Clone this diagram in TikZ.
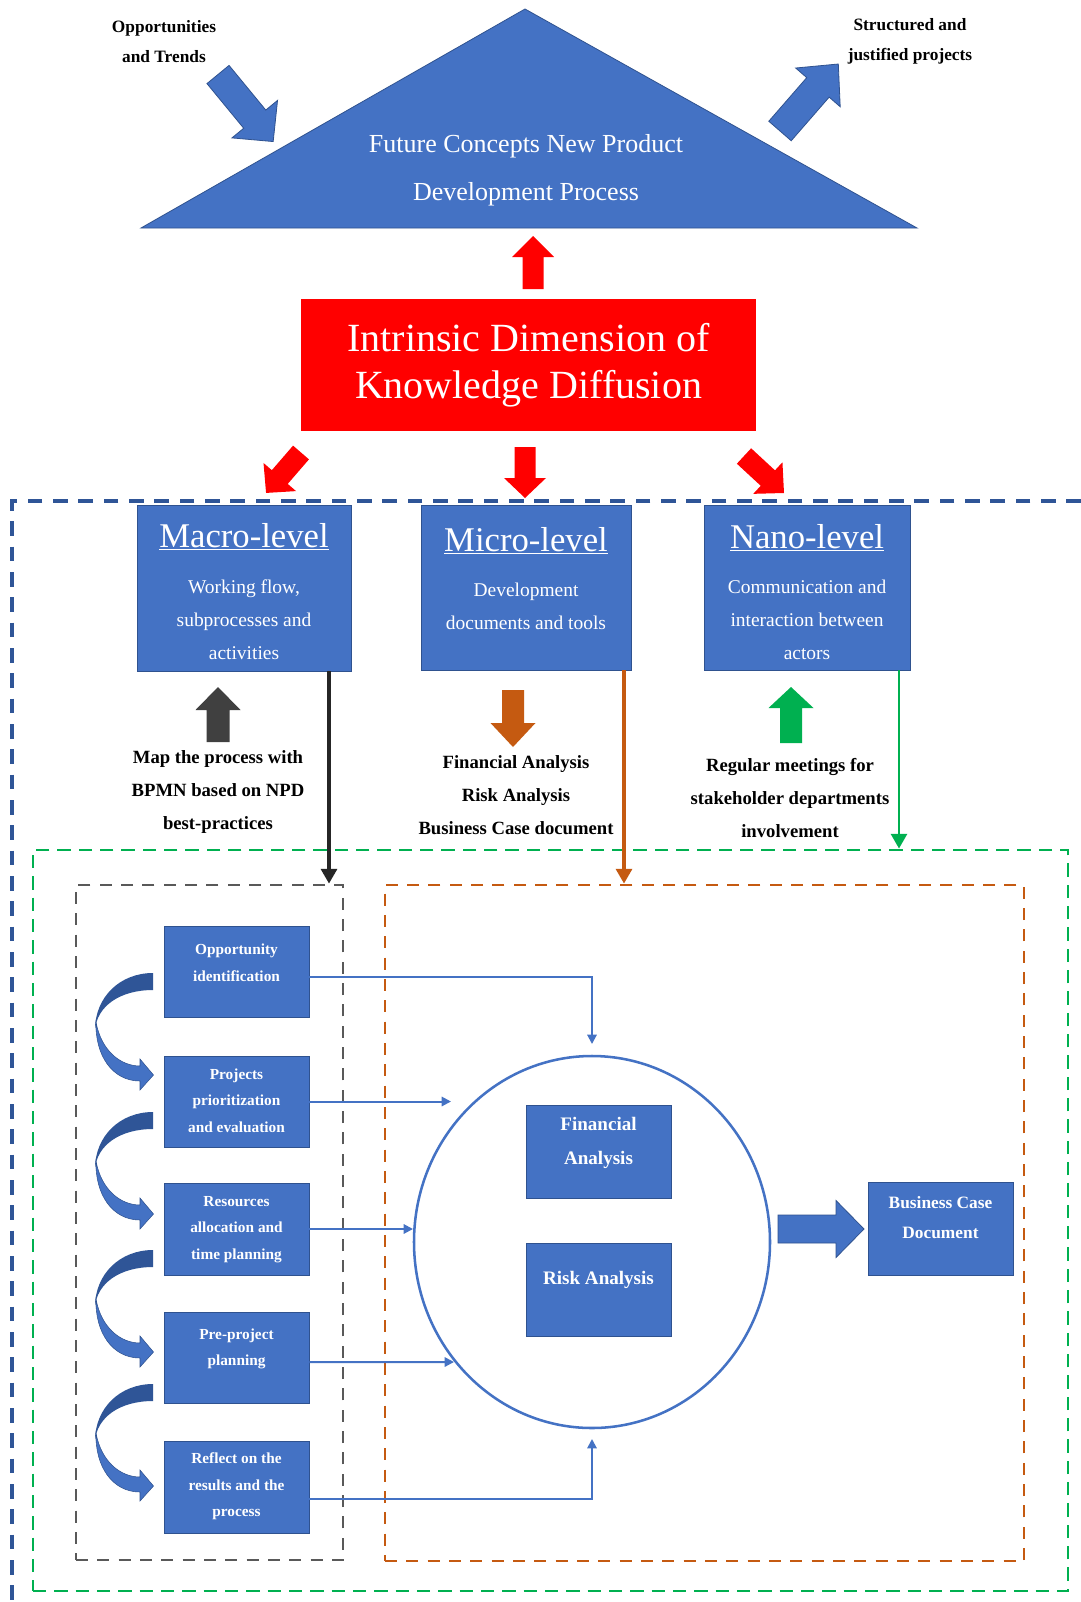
\documentclass[tikz,border=0pt]{standalone}
\usepackage{fontspec}
\setmainfont{Liberation Serif}
\usetikzlibrary{arrows.meta,shapes.geometric}

\definecolor{boxblue}{HTML}{4472C4}
\definecolor{edgeblue}{HTML}{2F528F}
\definecolor{darkblue}{HTML}{2F5597}
\definecolor{brandred}{HTML}{FF0000}
\definecolor{rust}{HTML}{C55A11}
\definecolor{leaf}{HTML}{00B050}
\definecolor{charcoal}{HTML}{404040}
\definecolor{ink}{HTML}{262626}
\definecolor{slate}{HTML}{595959}

\newcommand{\fsz}[2]{\fontsize{#1}{#2}\selectfont}

% straight block arrow: tail centre (#1,#2), tip (#3,#4),
% shaft width #5, head width #6, head length #7, path style #8
\newcommand{\blockarrow}[8]{%
  \pgfmathsetmacro\baLen{veclen(#3-#1,#4-#2)}%
  \pgfmathsetmacro\baAng{atan2(#2-#4,#3-#1)}%
  \pgfmathsetmacro\baNeck{\baLen-#7}%
  \begin{scope}[shift={(#1,#2)}, rotate=\baAng]
    \path[#8] (0,-#5/2) -- (\baNeck,-#5/2) -- (\baNeck,-#6/2) -- (\baLen,0)
      -- (\baNeck,#6/2) -- (\baNeck,#5/2) -- (0,#5/2) -- cycle;
  \end{scope}}

% curved ribbon arrow between two process steps, shifted down by #1
\newcommand{\loopback}[1]{%
  \begin{scope}[shift={(0,#1)}]
    \fill[darkblue] (153,973) .. controls (120,973) and (95,997) .. (95,1030)
      .. controls (97,1006) and (120,990) .. (153,990) -- cycle;
    \filldraw[fill=boxblue, draw=edgeblue, line width=0.4pt]
      (96,1022) .. controls (95,1055) and (112,1081) .. (140,1081)
      -- (140,1090) -- (153.5,1075) -- (140,1059) -- (140,1066)
      .. controls (120,1066) and (101,1050) .. (96,1022) -- cycle;
  \end{scope}}

\tikzset{
  wh/.style 2 args={minimum width={(#1)*0.75pt}, minimum height={(#2)*0.75pt}},
  bluebox/.style={rectangle, fill=boxblue, draw=edgeblue, line width=0.7pt, inner sep=0pt},
  whitetxt/.style={text=white, align=center, inner sep=0pt},
  blacktxt/.style={text=black, align=center, inner sep=0pt},
  toplbl/.style={blacktxt, font=\fsz{13}{22.5}\bfseries},
  midlbl/.style={blacktxt, font=\fsz{14}{25}\bfseries},
  titletxt/.style={whitetxt, font=\fsz{26}{30}},
  bodytxt/.style={whitetxt, font=\fsz{14.6}{24.75}},
  steptxt/.style={whitetxt, font=\fsz{11.5}{20}\bfseries},
  hubtxt/.style={whitetxt, font=\fsz{14.3}{25.5}\bfseries},
  zone/.style={rectangle, inner sep=0pt, line width=2.2pt, dash pattern=on 9pt off 7pt},
  outerdash/.style={draw=darkblue, line width=2.8pt, dash pattern=on 11pt off 8pt},
  thinarrow/.style={draw=boxblue, line width=1.5pt, -{Triangle[length=7pt,width=7pt]}},
  levelconn/.style={line width=2.3pt, -{Triangle[length=11pt,width=12pt]}},
  redarrow/.style={fill=brandred},
  bluearrow/.style={fill=boxblue, draw=edgeblue, line width=0.6pt},
}

\begin{document}
\begin{tikzpicture}[x=0.75pt, y=-0.75pt]
\useasboundingbox (0,0) rectangle (1081,1602);
\fill[white] (0,0) rectangle (1081,1602);

% ---------- top: the NPD process ----------
\filldraw[fill=boxblue, draw=edgeblue, line width=0.6pt] (141,228) -- (525,9) -- (917,228) -- cycle;
\node[whitetxt, font=\fsz{19.5}{36}] (npd) at (526,170) {Future Concepts New Product\\Development Process};

\node[toplbl] (trends) at (164,41.5) {Opportunities\\and Trends};
\node[toplbl] (outcome) at (910,41.5) {Structured and\\justified projects};

\blockarrow{218}{74.5}{273.3}{141.7}{28.6}{59}{29}{bluearrow}
\blockarrow{780}{131}{838.3}{64}{29.7}{59}{31}{bluearrow}

% ---------- knowledge diffusion ----------
\node[rectangle, fill=brandred, inner sep=0pt, wh={455}{132}, text=white, align=center,
      font=\fsz{30}{35}] (idkd) at (528.5,365) {Intrinsic Dimension of\\Knowledge Diffusion};

\blockarrow{533}{289}{533}{236}{21}{42}{21}{redarrow}
\blockarrow{301}{452.5}{266}{493}{21}{43}{21}{redarrow}
\blockarrow{525}{447}{525}{498}{21}{42}{20}{redarrow}
\blockarrow{744}{456}{784}{493}{21}{43}{22}{redarrow}

% ---------- outer frames ----------
\draw[outerdash] (1081,501) -- (12,501) -- (12,1602);
\node[zone, draw=leaf, dash pattern=on 10pt off 6pt, wh={1035}{741}] (greenzone) at (550.5,1220.5) {};
\node[zone, draw=slate, wh={267}{675}] (macrozone) at (209.5,1222.5) {};
\node[zone, draw=rust, wh={639}{676}] (microzone) at (704.5,1223) {};

% ---------- the three levels ----------
\node[bluebox, wh={214}{166}] (macro) at (244,588) {};
\node[bluebox, wh={210}{165}] (micro) at (526,587.5) {};
\node[bluebox, wh={206}{165}] (nano) at (807,587.5) {};

\node[titletxt] (macro-h) at (244,537) {\underline{Macro-level}};
\node[bodytxt] (macro-b) at (244,620) {Working flow,\\subprocesses and\\activities};
\node[titletxt] (micro-h) at (526,541) {\underline{Micro-level}};
\node[bodytxt] (micro-b) at (526,606.5) {Development\\documents and tools};
\node[titletxt] (nano-h) at (807,538) {\underline{Nano-level}};
\node[bodytxt] (nano-b) at (807,619.5) {Communication and\\interaction between\\actors};

\blockarrow{218}{742}{218}{687}{23}{45}{23}{fill=charcoal}
\blockarrow{513}{690}{513}{747}{22}{45}{24}{fill=rust}
\blockarrow{791}{743}{791}{687}{22}{45}{21}{fill=leaf}

\node[midlbl] (macro-l) at (218,792) {Map the process with\\BPMN based on NPD\\best-practices};
\node[midlbl] (micro-l) at (516,795) {Financial Analysis\\Risk Analysis\\Business Case document};
\node[midlbl] (nano-l) at (790,798) {Regular meetings for\\stakeholder departments\\involvement};

\draw[levelconn, ink] ([xshift=63.75pt]macro.south) -- ([xshift=63.75pt]macro.south |- macrozone.north);
\draw[levelconn, rust] ([xshift=73.5pt]micro.south) -- ([xshift=73.5pt]micro.south |- microzone.north);
\draw[levelconn, leaf, line width=2pt] ([xshift=69pt]nano.south) -- ([xshift=69pt]nano.south |- greenzone.north);

% ---------- process steps ----------
\node[bluebox, wh={145}{91}] (opp) at (236.5,971.5) {};
\node[bluebox, wh={145}{91}] (proj) at (236.5,1101.5) {};
\node[bluebox, wh={145}{92}] (res) at (236.5,1229) {};
\node[bluebox, wh={145}{91}] (pre) at (236.5,1357.5) {};
\node[bluebox, wh={145}{92}] (refl) at (236.5,1487) {};

\node[steptxt] (opp-t) at (236.5,963) {Opportunity\\identification};
\node[steptxt] (proj-t) at (236.5,1100.5) {Projects\\prioritization\\and evaluation};
\node[steptxt] (res-t) at (236.5,1229.5) {Resources\\allocation and\\time planning};
\node[steptxt] (pre-t) at (236.5,1349) {Pre-project\\planning};
\node[steptxt] (refl-t) at (236.5,1486.5) {Reflect on the\\results and the\\process};

\loopback{0}
\loopback{139}
\loopback{277}
\loopback{411}

% ---------- analysis hub ----------
\node[ellipse, draw=boxblue, line width=1.9pt, inner sep=0pt, wh={356}{372}] (hub) at (592,1242) {};
\node[bluebox, wh={145}{93}] (fin) at (598.5,1151.5) {};
\node[bluebox, wh={145}{93}] (risk) at (598.5,1289.5) {};
\node[hubtxt] (fin-t) at (598.5,1143) {Financial\\Analysis};
\node[hubtxt] (risk-t) at (598.5,1280) {Risk Analysis};

\node[bluebox, wh={145}{93}] (bcd) at (940.5,1228.5) {};
\node[whitetxt, font=\fsz{13}{22.5}\bfseries] (bcd-t) at (940.5,1217.5) {Business Case\\Document};

\blockarrow{778}{1229}{864}{1229}{28}{57}{28}{bluearrow}

\coordinate (inA) at (592,1044);
\coordinate (inB) at (451,1101.5);
\coordinate (inC) at (413,1229);
\coordinate (inD) at (454,1362);
\coordinate (inE) at (592,1439);

\draw[thinarrow] ([yshift=-4pt]opp.east) -| (inA);
\draw[thinarrow] (proj.east) -- (inB);
\draw[thinarrow] (res.east) -- (inC);
\draw[thinarrow] ([yshift=-3.4pt]pre.east) -- (inD);
\draw[thinarrow] ([yshift=-9pt]refl.east) -| (inE);

\end{tikzpicture}
\end{document}
